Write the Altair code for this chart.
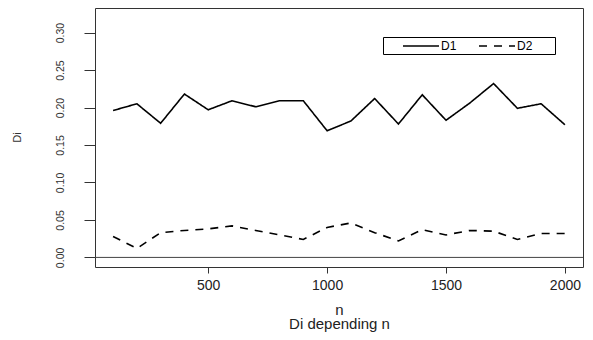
import altair as alt
import pandas as pd

# ---- data ----
n_values = [100, 200, 300, 400, 500, 600, 700, 800, 900, 1000,
            1100, 1200, 1300, 1400, 1500, 1600, 1700, 1800, 1900, 2000]
d1_values = [0.196, 0.205, 0.179, 0.218, 0.197, 0.209, 0.201, 0.209, 0.209, 0.169,
             0.182, 0.212, 0.178, 0.217, 0.183, 0.206, 0.232, 0.199, 0.205, 0.177]
d2_values = [0.028, 0.012, 0.033, 0.036, 0.038, 0.042, 0.036, 0.030, 0.024, 0.040,
             0.046, 0.033, 0.022, 0.037, 0.030, 0.036, 0.035, 0.024, 0.032, 0.032]
series_names = ["D1", "D2"]
x_ticks = [500, 1000, 1500, 2000]
y_ticks = [0.0, 0.05, 0.10, 0.15, 0.20, 0.25, 0.30]
zero_line = [0.0]

df = pd.DataFrame({
    "n": n_values + n_values,
    "Di": d1_values + d2_values,
    "series": [series_names[0]] * len(n_values) + [series_names[1]] * len(n_values),
})
zero_df = pd.DataFrame({"y": zero_line})

FONT = "Liberation Sans"
xscale = alt.Scale(domain=[24, 2076], nice=False, zero=False)
yscale = alt.Scale(domain=[-0.0128, 0.3328], nice=False, zero=False)

rule = alt.Chart(zero_df).mark_rule(color="#444", strokeWidth=1).encode(
    y=alt.Y("y:Q", scale=yscale)
)

lines = alt.Chart(df).mark_line(color="black", strokeWidth=1.6).encode(
    x=alt.X(
        "n:Q", scale=xscale,
        axis=alt.Axis(
            values=x_ticks, format="d", grid=False, domain=False,
            tickSize=6, tickColor="#333", labelFont=FONT, labelFontSize=14,
            labelColor="#222", labelPadding=5, labelFlush=False,
            title=["n", "Di depending n"], titleFont=FONT, titleFontSize=15,
            titleFontWeight="normal", titleColor="#222", titleLineHeight=14,
            titleX=244, titleY=47, titleAlign="center", titleBaseline="alphabetic",
        ),
    ),
    y=alt.Y(
        "Di:Q", scale=yscale,
        axis=alt.Axis(
            values=y_ticks, format=".2f", grid=False, domain=False,
            tickSize=11, tickColor="#333", labelFont=FONT, labelFontSize=10.5,
            labelColor="#333", labelAngle=270, labelAlign="center",
            labelBaseline="bottom", labelPadding=19, labelFlush=False,
            labelOverlap=False,
            title="Di", titleFont=FONT, titleFontSize=11, titleFontWeight="normal",
            titleColor="#333", titleAngle=270, titleX=-78, titleY=129,
            titleAlign="center", titleBaseline="middle",
        ),
    ),
    strokeDash=alt.StrokeDash(
        "series:N",
        scale=alt.Scale(domain=series_names, range=[[1, 0], [8, 7]]),
        legend=alt.Legend(
            title=" ", titleOrient="left", titleFontSize=1, titlePadding=29,
            orient="none", legendX=288, legendY=29, direction="horizontal",
            symbolType="M-3,0L3,0", symbolSize=144, symbolStrokeWidth=1.5,
            symbolStrokeColor="black", labelFont=FONT, labelFontSize=12,
            labelColor="black", labelOffset=13, columnPadding=19, padding=2,
            strokeColor="black", fillColor="white",
            labelExpr="datum.label == 'D2' ? 'D2      \u200b' : datum.label",
        ),
    ),
)

chart = alt.layer(rule, lines).properties(
    width=488, height=259,
    autosize="none",
    padding={"left": 87, "top": 0, "right": 2, "bottom": 65},
).configure_view(stroke="#333", strokeWidth=1)

chart.save("out.html", embed_options={"renderer": "svg", "actions": False})
